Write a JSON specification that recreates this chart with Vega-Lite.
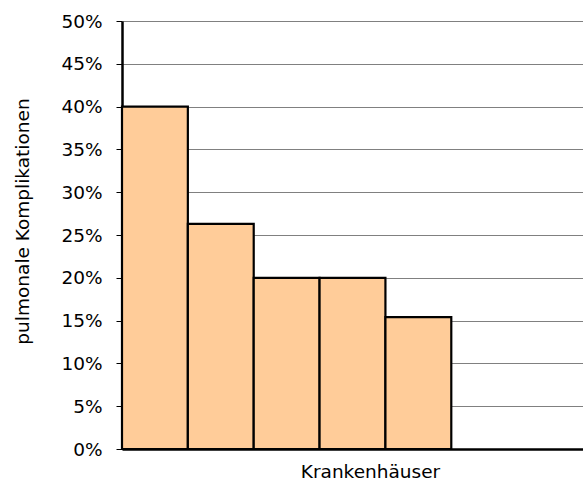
{
  "$schema": "https://vega.github.io/schema/vega-lite/v6.json",
  "autosize": "none",
  "padding": {"left": 122, "top": 21, "right": 0, "bottom": 35},
  "width": 461,
  "height": 428,
  "background": "white",
  "config": {"view": {"stroke": null}},
  "data": {
    "values": [
      {"haus": "K1", "rate": 0.40},
      {"haus": "K2", "rate": 0.263},
      {"haus": "K3", "rate": 0.20},
      {"haus": "K4", "rate": 0.20},
      {"haus": "K5", "rate": 0.154}
    ]
  },
  "mark": {"type": "bar", "fill": "#FFCC99", "stroke": "#000000", "strokeWidth": 2.2},
  "encoding": {
    "x": {
      "field": "haus",
      "type": "nominal",
      "sort": null,
      "scale": {"domain": ["K1", "K2", "K3", "K4", "K5", "K6", "K7"], "paddingInner": 0, "paddingOuter": 0},
      "axis": {
        "title": "Krankenhäuser",
        "labels": false,
        "ticks": false,
        "grid": false,
        "domainColor": "#000000",
        "domainWidth": 2.5,
        "titleFont": "DejaVu Sans",
        "titleFontSize": 18.5,
        "titleFontWeight": "normal",
        "titleColor": "#000000",
        "titleX": 248,
        "titleY": 22,
        "titleBaseline": "middle"
      }
    },
    "y": {
      "field": "rate",
      "type": "quantitative",
      "scale": {"domain": [0, 0.5], "nice": false},
      "axis": {
        "title": "pulmonale Komplikationen",
        "format": ".0%",
        "values": [0, 0.05, 0.1, 0.15, 0.2, 0.25, 0.3, 0.35, 0.4, 0.45, 0.5],
        "grid": true,
        "gridColor": "#808080",
        "gridWidth": 1,
        "domainColor": "#000000",
        "domainWidth": 2.5,
        "tickColor": "#000000",
        "tickSize": 6,
        "tickWidth": 1,
        "labelPadding": 14,
        "labelFont": "DejaVu Sans",
        "labelFontSize": 18.5,
        "labelColor": "#000000",
        "titleFont": "DejaVu Sans",
        "titleFontSize": 18.5,
        "titleFontWeight": "normal",
        "titleColor": "#000000",
        "titleX": -100,
        "titleY": 200,
        "titleAngle": -90,
        "titleBaseline": "middle",
        "titleAlign": "center"
      }
    }
  }
}
